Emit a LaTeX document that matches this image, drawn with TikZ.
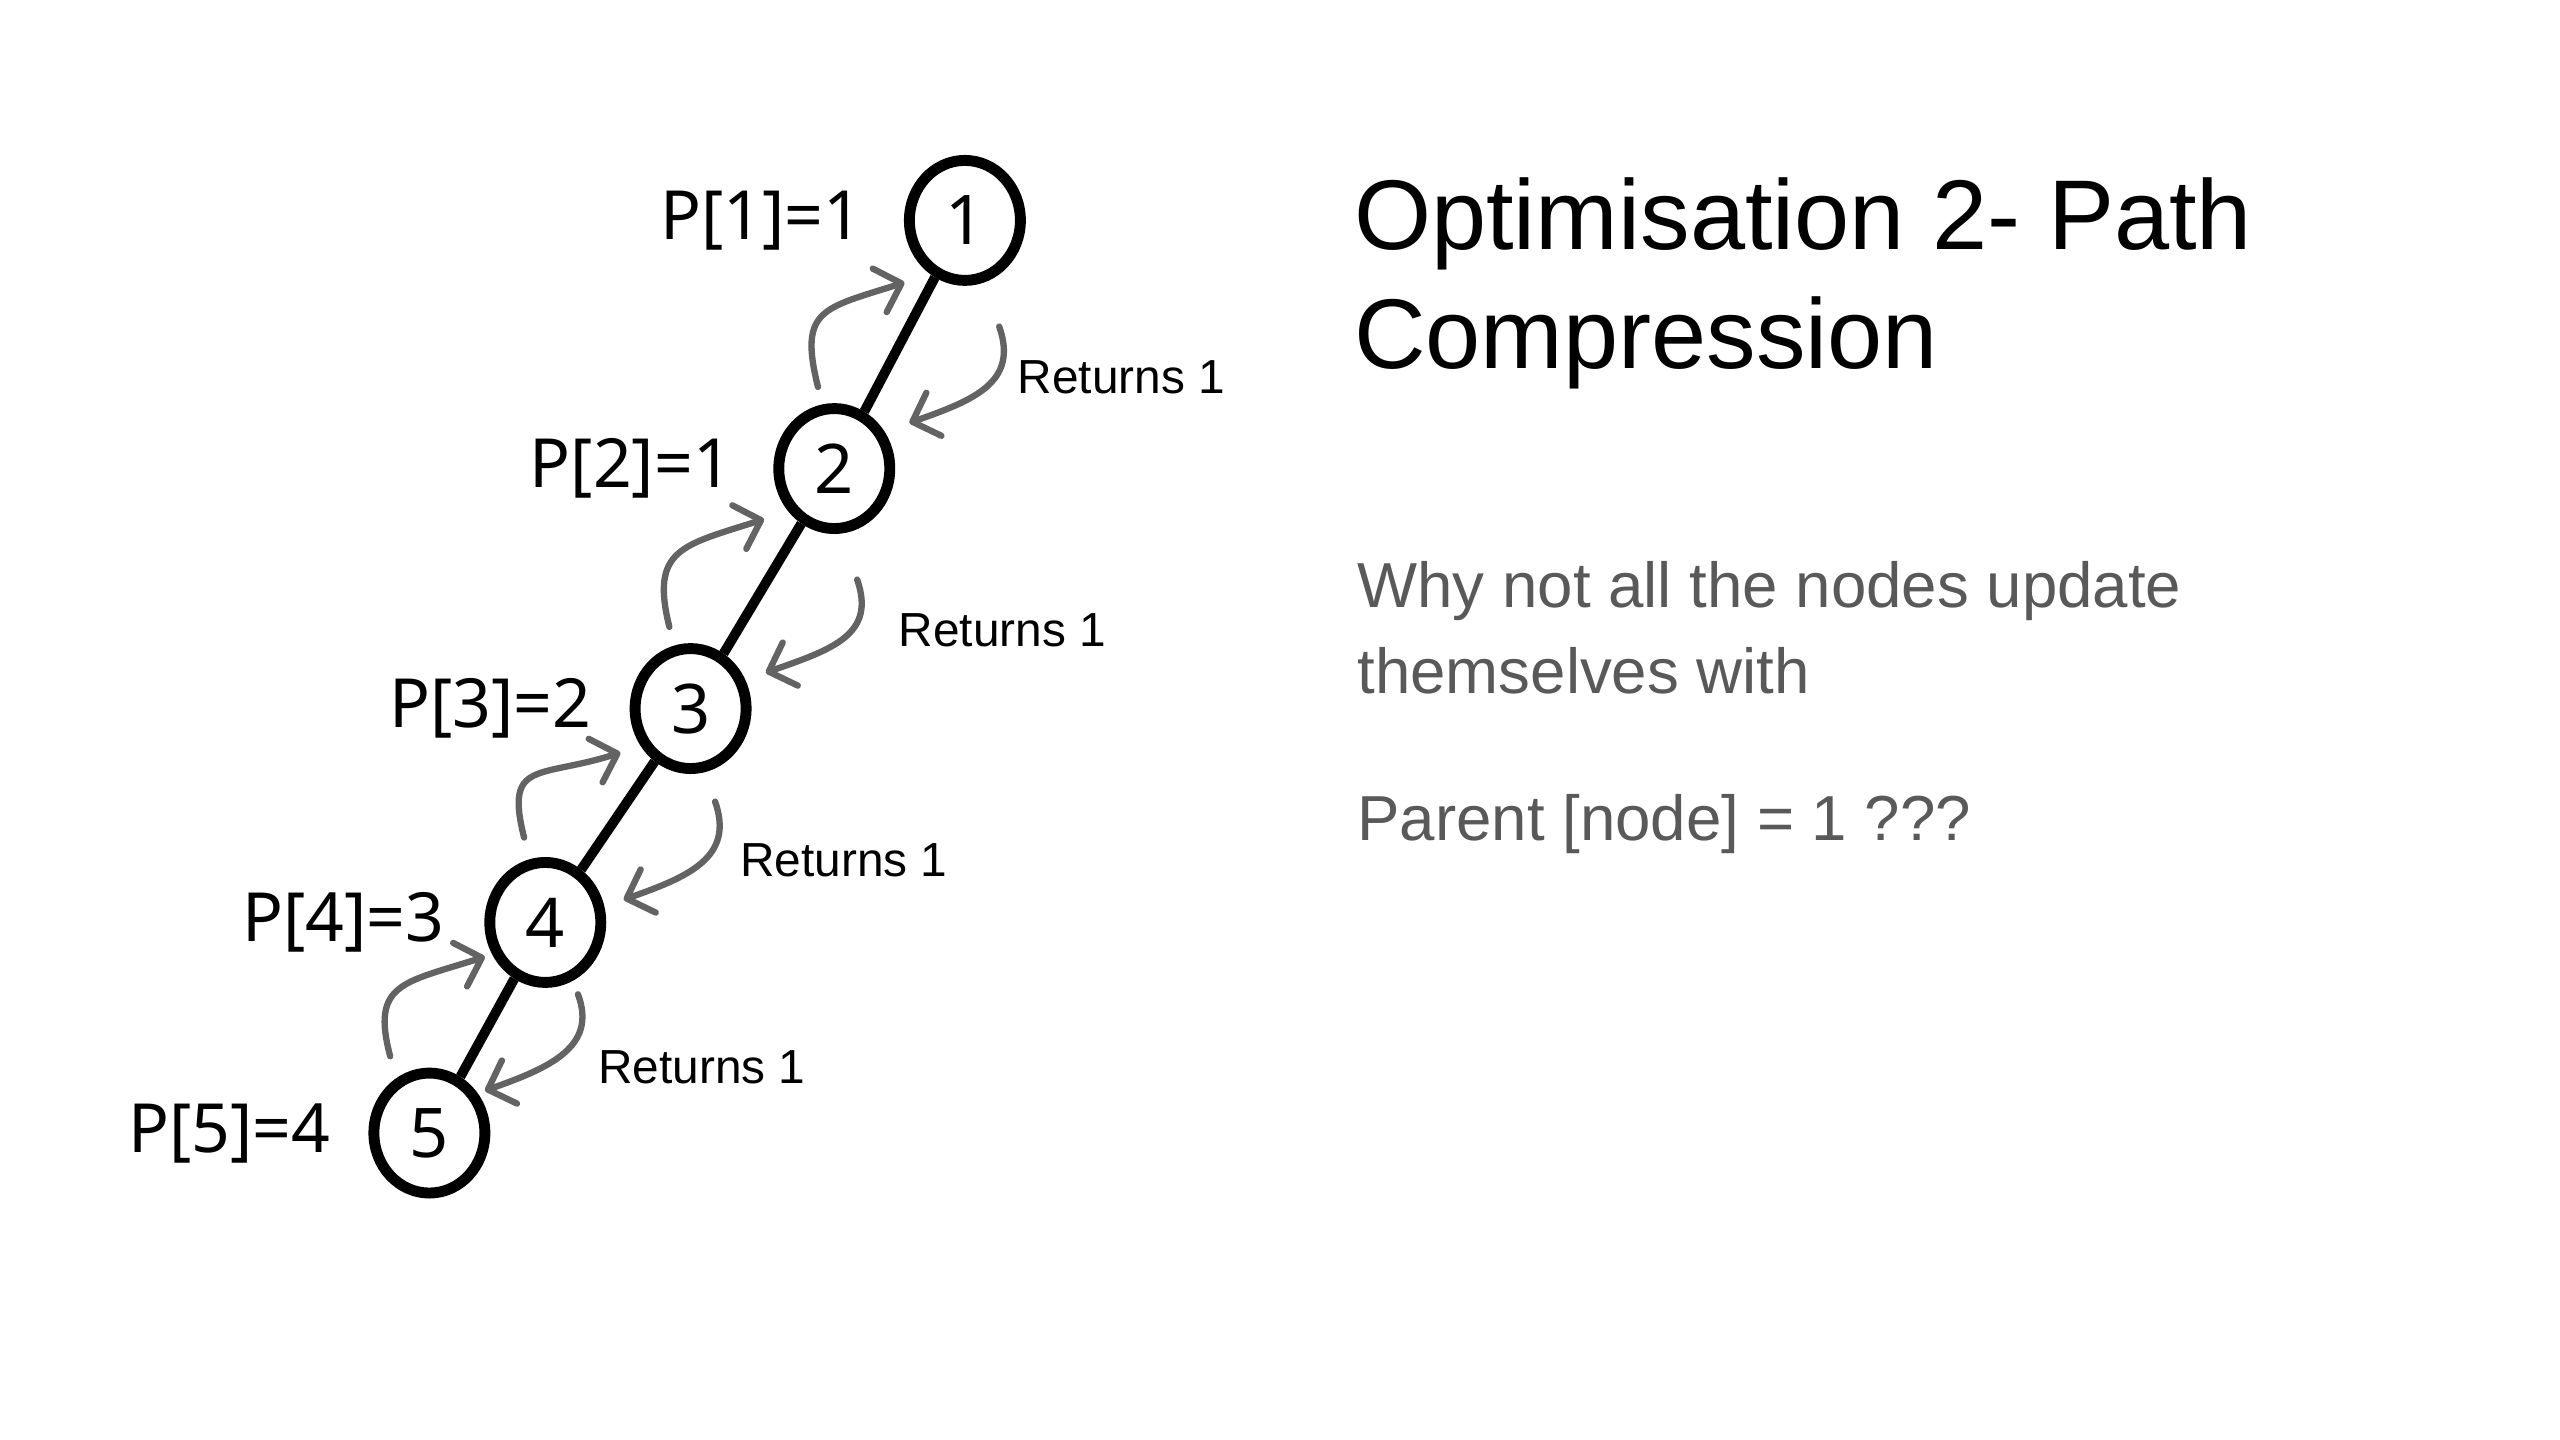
\documentclass[tikz,border=0pt]{standalone}
\usepackage{fontspec}
\setmainfont{Liberation Sans}
\newfontfamily\notosans{Noto Sans}
\usetikzlibrary{arrows.meta,calc,shapes.geometric}
\definecolor{arrowgray}{HTML}{636363}
\definecolor{textgray}{HTML}{595959}
\begin{document}
\begin{tikzpicture}[x=0.016327cm,y=-0.016327cm,
  vnode/.style={ellipse,draw,line width=3.1pt,minimum width=1.11cm,minimum height=1.2cm,inner sep=0pt,
    font=\notosans\fontsize{19.5}{22}\selectfont},
  plabel/.style={anchor=east,inner sep=0pt,font=\notosans\fontsize{19.3}{22}\selectfont},
  tree/.style={line width=2.8pt},
  garrow/.style={draw=arrowgray,line width=1.8pt,line cap=round,line join=round,
    -{Straight Barb[length=6.5pt,width=13pt,line width=1.8pt,round]}},
  retlabel/.style={anchor=west,inner sep=0pt,font=\fontsize{13.6}{16}\selectfont},
  title/.style={anchor=base west,inner sep=0pt,font=\fontsize{28.2}{34}\selectfont},
  body/.style={anchor=base west,inner sep=0pt,text=textgray,font=\fontsize{18.1}{22}\selectfont}]
\useasboundingbox (0,0) rectangle (1568,882);

% vertices
\node[vnode] (n1) at (591,135) {1};
\node[vnode] (n2) at (511,287) {2};
\node[vnode] (n3) at (423,434) {3};
\node[vnode] (n4) at (334,565) {4};
\node[vnode] (n5) at (263,694) {5};

% tree edges
\draw[tree] (n1) -- (n2);
\draw[tree] (n2) -- (n3);
\draw[tree] (n3) -- (n4);
\draw[tree] (n4) -- (n5);

% parent labels
\node[plabel] (p1) at ($(n1.west)+(-25,0)$) {P[1]=1};
\node[plabel] (p2) at ($(n2.west)+(-25,0)$) {P[2]=1};
\node[plabel] (p3) at ($(n3.west)+(-23,0)$) {P[3]=2};
\node[plabel] (p4) at ($(n4.west)+(-24,0)$) {P[4]=3};
\node[plabel] (p5) at ($(n5.west)+(-23,0)$) {P[5]=4};

% upward (find) arrows
\draw[garrow] ($(n2)+(-10,-50)$) .. controls +(-12,-48) and +(-50,16) .. ($(n1)+(-37,38)$);
\draw[garrow] ($(n3)+(-13,-50)$) .. controls +(-12,-48) and +(-50,16) .. ($(n2)+(-43,31)$);
\draw[garrow] ($(n4)+(-13,-52)$) .. controls +(-12,-48) and +(-50,16) .. ($(n3)+(-43,27)$);
\draw[garrow] ($(n5)+(-24,-47)$) .. controls +(-12,-45) and +(-50,16) .. ($(n4)+(-37,21)$);

% returning arrows
\draw[garrow] ($(n1)+(21,65)$) .. controls +(12,34) and +(40,-14) .. ($(n2)+(46,-28)$);
\draw[garrow] ($(n2)+(14,68)$) .. controls +(12,34) and +(40,-14) .. ($(n3)+(46,-22)$);
\draw[garrow] ($(n3)+(15,57)$) .. controls +(12,34) and +(40,-14) .. ($(n4)+(48,-14)$);
\draw[garrow] ($(n4)+(20,44)$) .. controls +(12,32) and +(40,-14) .. ($(n5)+(34,-26)$);

% return labels
\node[retlabel] (r1) at (623,231) {Returns 1};
\node[retlabel] (r2) at (550,386) {Returns 1};
\node[retlabel] (r3) at (453,527) {Returns 1};
\node[retlabel] (r4) at (366,654) {Returns 1};

% title and text
\node[title] (t1) at (829,153) {Optimisation 2- Path};
\node[title] (t2) at (829,226) {Compression};
\node[body] (b1) at (831,372) {Why not all the nodes update};
\node[body] (b2) at (831,425) {themselves with};
\node[body] (b3) at (831,515) {Parent [node] = 1 ???};
\end{tikzpicture}
\end{document}
